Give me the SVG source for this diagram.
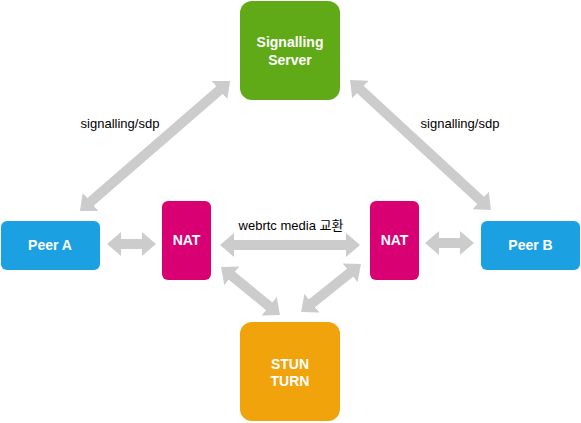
<svg xmlns="http://www.w3.org/2000/svg" width="581" height="423" viewBox="0 0 581 423">
  <style>
    .lbl { font-family: "Liberation Sans", Arial, sans-serif; font-weight: bold; font-size: 14px; fill: #ffffff; text-anchor: middle; }
    .edge-lbl { font-family: "Liberation Sans", "Noto Sans CJK KR", Arial, sans-serif; font-size: 13px; fill: #000000; text-anchor: middle; }
    .conn { stroke: #cccccc; stroke-width: 10; fill: none; marker-start: url(#head); marker-end: url(#head); }
  </style>
  <defs>
    <marker id="head" viewBox="0 0 14 24" refX="1" refY="12" markerWidth="14" markerHeight="24" markerUnits="userSpaceOnUse" orient="auto-start-reverse">
      <path d="M0,0 L14,12 L0,24 z" fill="#cccccc"/>
    </marker>
  </defs>
  <rect width="581" height="423" fill="#ffffff"/>

  <g id="connectors">
    <line class="conn" x1="120" y1="244" x2="143" y2="244"/>
    <line class="conn" x1="233" y1="245" x2="347" y2="245"/>
    <line class="conn" x1="438" y1="243" x2="461" y2="243"/>
    <line class="conn" x1="89.8" y1="202.5" x2="220.2" y2="89.5"/>
    <line class="conn" x1="359.6" y1="88.8" x2="481.4" y2="201.2"/>
    <line class="conn" x1="231.1" y1="275.2" x2="269.9" y2="306.8"/>
    <line class="conn" x1="311.2" y1="303.9" x2="350.8" y2="272.1"/>
    <text class="edge-lbl" x="120" y="128">signalling/sdp</text>
    <text class="edge-lbl" x="460" y="128">signalling/sdp</text>
    <text class="edge-lbl" x="291" y="230">webrtc media 교환</text>
  </g>

  <g id="signalling-server">
    <rect x="240" y="1" width="100" height="99" rx="12" fill="#60a917"/>
    <text class="lbl" x="290" y="47">Signalling</text>
    <text class="lbl" x="290" y="65">Server</text>
  </g>
  <g id="peer-a">
    <rect x="1" y="221" width="99" height="49" rx="6" fill="#1ba1e2"/>
    <text class="lbl" x="50" y="250">Peer A</text>
  </g>
  <g id="nat-a">
    <rect x="162" y="201" width="49" height="79" rx="6" fill="#d80073"/>
    <text class="lbl" x="186.5" y="245">NAT</text>
  </g>
  <g id="nat-b">
    <rect x="370" y="201" width="49" height="79" rx="6" fill="#d80073"/>
    <text class="lbl" x="394.5" y="245">NAT</text>
  </g>
  <g id="peer-b">
    <rect x="481" y="221" width="99" height="49" rx="6" fill="#1ba1e2"/>
    <text class="lbl" x="530.5" y="250">Peer B</text>
  </g>
  <g id="stun-turn">
    <rect x="240" y="322" width="100" height="99" rx="12" fill="#f0a30a"/>
    <text class="lbl" x="290" y="369">STUN</text>
    <text class="lbl" x="290" y="386">TURN</text>
  </g>
</svg>
